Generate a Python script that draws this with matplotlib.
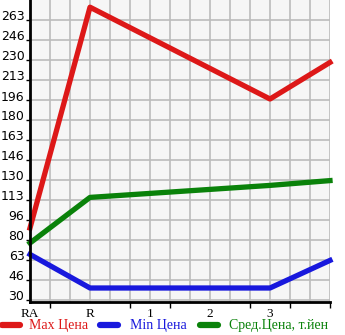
import numpy as np
import matplotlib.pyplot as plt
from matplotlib.lines import Line2D
from matplotlib.ticker import FixedLocator
from matplotlib.transforms import ScaledTranslation

# category slots (the last one sits on the right edge, unlabeled)
x_pos = [0, 1, 4, 5]
tick_labels = ['RA', 'R', '1', '2', '3']
max_price = [90, 274, 197.5, 228]
min_price = [68, 40, 40, 63]
avg_price = [77.5, 115.5, 125.5, 129.5]
y_ticks = [30 + k * 250 / 15 for k in range(15)]

red = '#dd1818'
blue = '#1818dd'
green = '#0a820a'

fig = plt.figure(figsize=(3.45, 3.35), dpi=100)
ax = fig.add_axes([30 / 345, 33 / 335, 300 / 345, 302 / 335])
ax.set_facecolor('#f6f6f6')

ax.set_xlim(0, 5)
ax.set_ylim(30 - 2 * 250 / 300, 280)

# grid every 20 px
for gx in np.arange(1, 16) / 3:
    ax.axvline(gx, color='#bcbcbc', lw=1.2, zorder=1)
for gy in y_ticks:
    ax.axhline(gy, color='#bcbcbc', lw=1.2, zorder=1)

lw = 3.8
ax.plot(x_pos, max_price, color=red, lw=lw, zorder=3, clip_on=False)
ax.plot(x_pos, min_price, color=blue, lw=lw, zorder=3, clip_on=False)
ax.plot(x_pos, avg_price, color=green, lw=lw, zorder=3, clip_on=False)

for s in ['top', 'right']:
    ax.spines[s].set_visible(False)
ax.spines['left'].set_linewidth(2)
ax.spines['bottom'].set_linewidth(2)
ax.spines['left'].set_zorder(4)
ax.spines['bottom'].set_zorder(4)

ax.set_yticks(y_ticks)
ax.set_yticklabels([str(int(v)) for v in y_ticks], fontsize=9,
                   fontfamily='DejaVu Sans')
ax.tick_params(axis='y', length=3, width=1, pad=1)
shift = ScaledTranslation(0, 3 / 100, fig.dpi_scale_trans)
for lab in ax.get_yticklabels():
    lab.set_va('center')
    lab.set_transform(lab.get_transform() + shift)

ax.set_xticks(range(len(tick_labels)))
ax.set_xticklabels(tick_labels, fontsize=9.5, fontfamily='Liberation Serif')
ax.tick_params(axis='x', length=0, pad=4)
ax.xaxis.set_minor_locator(FixedLocator([1 / 3, 1, 5 / 3, 7 / 3, 3, 11 / 3, 13 / 3, 5]))
ax.tick_params(axis='x', which='minor', length=4, width=1)

# legend row
leg_y = 1 - 325 / 335
items = [(0, 29, red, 'Max Цена'), (98, 130, blue, 'Min Цена'),
         (198, 229, green, 'Сред.Цена, т.йен')]
for x0, tx, col, txt in items:
    fig.add_artist(Line2D([(x0 + 2) / 345, (x0 + 20) / 345], [leg_y, leg_y],
                          color=col, lw=4.5, solid_capstyle='round'))
    fig.text(tx / 345, leg_y, txt, color=col, fontsize=10,
             fontfamily='Liberation Serif', va='center', ha='left')

fig.savefig('out.png', dpi=100)
